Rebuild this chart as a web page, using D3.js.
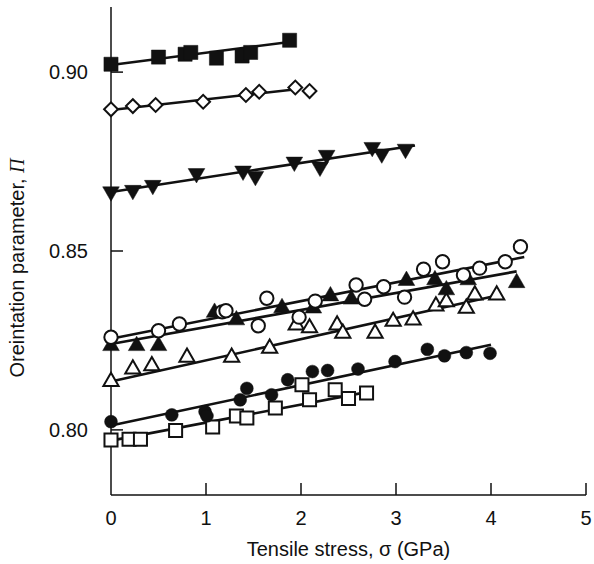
<!DOCTYPE html>
<html>
<head>
<meta charset="utf-8">
<script src="https://cdn.jsdelivr.net/npm/d3@7"></script>
<style>
  body { margin: 0; background: #fff; }
  svg text { font-family: Arial, "Liberation Sans", sans-serif; fill: #111; }
</style>
</head>
<body>
<svg class="chart" width="594" height="564"></svg>
<script>
// tick labels
const xTicks = [0, 1, 2, 3, 4, 5];
const yTicks = [0.80, 0.85, 0.90];

// series values: [stress GPa, orientation parameter]
const filledSquares = [[0, 0.9022], [0.5, 0.9042], [0.78, 0.9050], [0.84, 0.9055], [1.11, 0.9039], [1.38, 0.9045], [1.47, 0.9055], [1.88, 0.9089]];
const openDiamonds = [[0, 0.8896], [0.23, 0.8905], [0.47, 0.8908], [0.97, 0.8917], [1.42, 0.8936], [1.56, 0.8945], [1.94, 0.8957], [2.09, 0.8947]];
const downTriangles = [[0, 0.8666], [0.23, 0.8670], [0.44, 0.8684], [0.9, 0.8717], [1.39, 0.8724], [1.52, 0.8709], [1.93, 0.8749], [2.2, 0.8735], [2.27, 0.8768], [2.75, 0.8790], [2.85, 0.8772], [3.1, 0.8785]];
const openCircles = [[0, 0.8259], [0.5, 0.8277], [0.72, 0.8296], [1.17, 0.8330], [1.21, 0.8333], [1.55, 0.8291], [1.64, 0.8368], [1.98, 0.8315], [2.15, 0.8360], [2.58, 0.8405], [2.67, 0.8365], [2.87, 0.8400], [3.09, 0.8371], [3.29, 0.8449], [3.49, 0.8470], [3.71, 0.8433], [3.88, 0.8452], [4.15, 0.8470], [4.31, 0.8512]];
const filledTriangles = [[0, 0.8235], [0.27, 0.8235], [0.5, 0.8235], [1.09, 0.8328], [1.32, 0.8307], [1.8, 0.8341], [2.13, 0.8340], [2.31, 0.8374], [2.53, 0.8365], [3.11, 0.8417], [3.41, 0.8419], [3.53, 0.8391], [3.76, 0.8419], [4.27, 0.8411]];
const openTriangles = [[0, 0.8135], [0.23, 0.8170], [0.43, 0.8179], [0.8, 0.8203], [1.27, 0.8203], [1.67, 0.8228], [1.95, 0.8293], [2.09, 0.8285], [2.38, 0.8293], [2.44, 0.8270], [2.78, 0.8270], [2.97, 0.8303], [3.18, 0.8307], [3.42, 0.8346], [3.53, 0.8358], [3.74, 0.8340], [3.83, 0.8377], [4.06, 0.8377]];
const filledCircles = [[0, 0.8023], [0.64, 0.8042], [0.99, 0.8051], [1.01, 0.8039], [1.36, 0.8084], [1.43, 0.8116], [1.69, 0.8098], [1.86, 0.8140], [2.12, 0.8163], [2.28, 0.8166], [2.6, 0.8170], [2.99, 0.8191], [3.33, 0.8225], [3.51, 0.8207], [3.74, 0.8216], [3.99, 0.8214]];
const openSquares = [[0, 0.7972], [0.19, 0.7974], [0.31, 0.7974], [0.68, 0.7998], [1.07, 0.8008], [1.32, 0.8039], [1.43, 0.8033], [1.73, 0.8061], [2.01, 0.8126], [2.09, 0.8084], [2.36, 0.8112], [2.5, 0.8088], [2.69, 0.8103]];

// fitted straight lines, end points
const fitLines = [
  [[0, 0.9020], [1.9, 0.9085]],
  [[0, 0.8894], [1.95, 0.8952]],
  [[0, 0.8665], [3.2, 0.8795]],
  [[0, 0.8255], [4.35, 0.8483]],
  [[0, 0.8240], [4.27, 0.8443]],
  [[0, 0.8135], [4.1, 0.8378]],
  [[0, 0.8012], [4.0, 0.8238]],
  [[0, 0.7970], [2.72, 0.8107]]
];

const svg = d3.select(".chart");
const x = d3.scaleLinear().domain([0, 5]).range([111, 586]);
const y = d3.scaleLinear().domain([0.7818, 0.9182]).range([495, 7]);

// axes: left and bottom lines with inward ticks
svg.append("line").attr("x1", x(0)).attr("x2", x(0)).attr("y1", y.range()[1]).attr("y2", y.range()[0])
  .attr("stroke", "#111").attr("stroke-width", 1.5);
svg.append("line").attr("x1", x(0)).attr("x2", x(5)).attr("y1", y.range()[0]).attr("y2", y.range()[0])
  .attr("stroke", "#111").attr("stroke-width", 1.5);

svg.selectAll(".xtick").data(xTicks.slice(1)).enter().append("line")
  .attr("x1", (d) => x(d)).attr("x2", (d) => x(d))
  .attr("y1", y.range()[0]).attr("y2", y.range()[0] - 12)
  .attr("stroke", "#111").attr("stroke-width", 1.5);
svg.selectAll(".xlab").data(xTicks).enter().append("text")
  .attr("x", (d) => x(d)).attr("y", 525)
  .attr("text-anchor", "middle").style("font-size", "20px")
  .text((d) => d);

svg.selectAll(".ytick").data(yTicks).enter().append("line")
  .attr("x1", x(0)).attr("x2", x(0) + 12)
  .attr("y1", (d) => y(d)).attr("y2", (d) => y(d))
  .attr("stroke", "#111").attr("stroke-width", 1.5);
svg.selectAll(".ylab").data(yTicks).enter().append("text")
  .attr("x", 88).attr("y", (d) => y(d) + 7)
  .attr("text-anchor", "end").style("font-size", "20px")
  .text((d) => d3.format(".2f")(d));

svg.append("text").attr("x", (x(0) + x(5)) / 2).attr("y", 556)
  .attr("text-anchor", "middle").style("font-size", "20px")
  .text("Tensile stress, \u03c3 (GPa)");

const yTitle = svg.append("text")
  .attr("transform", "translate(24,268) rotate(-90)")
  .attr("text-anchor", "middle").style("font-size", "20px");
yTitle.append("tspan").text("Oreintation parameter, ");
yTitle.append("tspan").style("font-family", "'Liberation Serif', serif").style("font-style", "italic").text("\u03a0");

// fit lines
const line = d3.line().x((d) => x(d[0])).y((d) => y(d[1]));
svg.selectAll(".fit").data(fitLines).enter().append("path")
  .attr("d", line).attr("fill", "none").attr("stroke", "#111").attr("stroke-width", 2.6);

// markers
function drawSeries(data, type, size, filled, rotate) {
  svg.append("g").selectAll("path").data(data).enter().append("path")
    .attr("d", d3.symbol().type(type).size(size))
    .attr("transform", (d) => `translate(${x(d[0])},${y(d[1])}) rotate(${rotate})`)
    .attr("fill", filled ? "#111" : "#fff")
    .attr("stroke", "#111").attr("stroke-width", filled ? 0.5 : 2);
}

drawSeries(openSquares, d3.symbolSquare, 170, false, 0);
drawSeries(filledCircles, d3.symbolCircle, 130, true, 0);
drawSeries(openTriangles, d3.symbolTriangle, 100, false, 0);
drawSeries(filledTriangles, d3.symbolTriangle, 120, true, 0);
drawSeries(openCircles, d3.symbolCircle, 140, false, 0);
drawSeries(downTriangles, d3.symbolTriangle, 120, true, 180);
drawSeries(openDiamonds, d3.symbolSquare, 95, false, 45);
drawSeries(filledSquares, d3.symbolSquare, 200, true, 0);
</script>
</body>
</html>
